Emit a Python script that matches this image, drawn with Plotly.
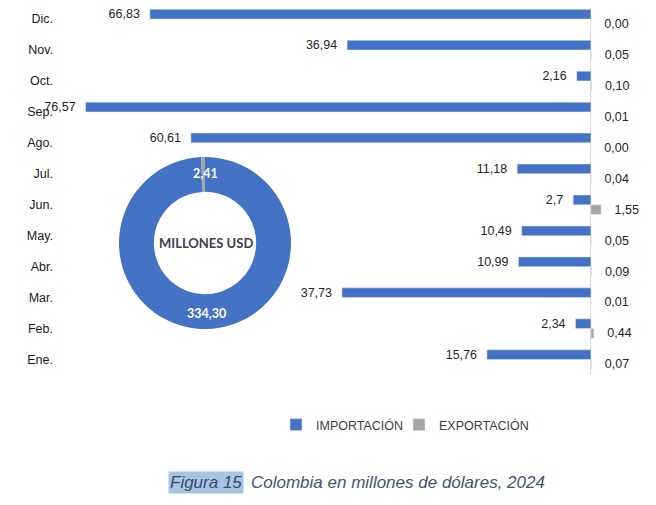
import plotly.graph_objects as go

# monthly trade with Colombia, millions of USD (2024)
months = ["Ene.", "Feb.", "Mar.", "Abr.", "May.", "Jun.",
          "Jul.", "Ago.", "Sep.", "Oct.", "Nov.", "Dic."]
importacion = [15.76, 2.34, 37.73, 10.99, 10.49, 2.7,
               11.18, 60.61, 76.57, 2.16, 36.94, 66.83]
exportacion = [0.07, 0.44, 0.01, 0.09, 0.05, 1.55,
               0.04, 0.00, 0.01, 0.10, 0.05, 0.00]

BLUE = "#4472C4"
GRAY = "#A5A5A5"
NB = "\u00a0"

# page body has an 8px margin, so work in screen pixels and convert
W, H, OFF = 648, 497, 8


def px(x):
    return (x - OFF) / W


def py(y):
    return 1 - (y - OFF) / H


def coma(v, fmt):
    return format(v, fmt).replace(".", ",")


imp_text = [coma(v, "g") + NB * 2 for v in importacion]
exp_text = [NB * 3 + coma(v, ".2f") for v in exportacion]

total_imp = round(sum(importacion), 2)
total_exp = round(sum(exportacion), 2)

fig = go.Figure()

# imports drawn to the left of the axis
fig.add_trace(go.Bar(
    y=months, x=[-v for v in importacion], orientation="h",
    name="IMPORTACIÓN", marker_color=BLUE, legend="legend",
    text=imp_text, textposition="outside", cliponaxis=False,
    constraintext="none", textfont=dict(size=12.5, color="#262626"),
    hoverinfo="skip",
))
fig.add_trace(go.Bar(
    y=months, x=exportacion, orientation="h",
    name="EXPORTACIÓN", marker_color=GRAY, legend="legend2",
    text=exp_text, textposition="outside", cliponaxis=False,
    constraintext="none", textfont=dict(size=12.5, color="#262626"),
    hoverinfo="skip",
))

# donut with yearly totals (export sliver just left of 12 o'clock)
fig.add_trace(go.Pie(
    values=[total_imp, total_exp],
    labels=["IMPORTACIÓN", "EXPORTACIÓN"],
    textinfo="none",
    marker=dict(colors=[BLUE, GRAY], line=dict(width=0)),
    hole=0.595, sort=False, direction="counterclockwise", rotation=0,
    domain=dict(x=[px(119), px(291)], y=[py(329), py(157)]),
    showlegend=False, hoverinfo="skip",
))

legend_style = dict(orientation="h", xanchor="left", y=py(425), yanchor="middle",
                    bgcolor="rgba(0,0,0,0)",
                    font=dict(size=12.5, color="#404040"))

fig.update_layout(
    width=W, height=H,
    margin=dict(l=0, r=0, t=0, b=0),
    paper_bgcolor="white", plot_bgcolor="white",
    font=dict(family="Liberation Sans, Arial", size=12.5, color="#262626"),
    barmode="group", bargap=0.37, bargroupgap=0,
    xaxis=dict(domain=[px(55), px(644.4)], range=[-81.2, 8.1],
               showticklabels=False, showgrid=False, zeroline=True,
               zerolinecolor="#D9D9D9", zerolinewidth=1, fixedrange=True),
    yaxis=dict(domain=[py(375), 1], categoryorder="array",
               categoryarray=months[::-1], range=[11.5, -0.357],
               showgrid=False, zeroline=False, ticks="", ticklabelstandoff=1,
               tickfont=dict(size=12.5, color="#1a1a1a")),
    legend=dict(x=px(276), **legend_style),
    legend2=dict(x=px(399), **legend_style),
    showlegend=True,
)

donut_font = dict(family="Lato", size=12.5, color="white", weight="bold")
fig.add_annotation(
    text=coma(total_exp, ".2f"), xref="paper", yref="paper",
    x=px(205), y=py(173), xanchor="center", yanchor="middle",
    showarrow=False, font=donut_font,
)
fig.add_annotation(
    text=coma(total_imp, ".2f"), xref="paper", yref="paper",
    x=px(207), y=py(313), xanchor="center", yanchor="middle",
    showarrow=False, font=donut_font,
)
fig.add_annotation(
    text="MILLONES USD", xref="paper", yref="paper",
    x=px(206), y=py(243), xanchor="center", yanchor="middle",
    showarrow=False,
    font=dict(family="Lato", size=13, color="#404050", weight="bold"),
)

# caption
fig.add_annotation(
    text="<i>Figura 15</i>", xref="paper", yref="paper",
    x=px(244), xanchor="right", y=py(482), yanchor="middle",
    showarrow=False, bgcolor="#A7C5E3", borderpad=1,
    font=dict(size=17, color="#3B4A62"),
)
fig.add_annotation(
    text="<i>Colombia en millones de dólares, 2024</i>", xref="paper", yref="paper",
    x=px(249), xanchor="left", y=py(482), yanchor="middle",
    showarrow=False, font=dict(size=17, color="#44546A"),
)

fig.write_html("out.html")
